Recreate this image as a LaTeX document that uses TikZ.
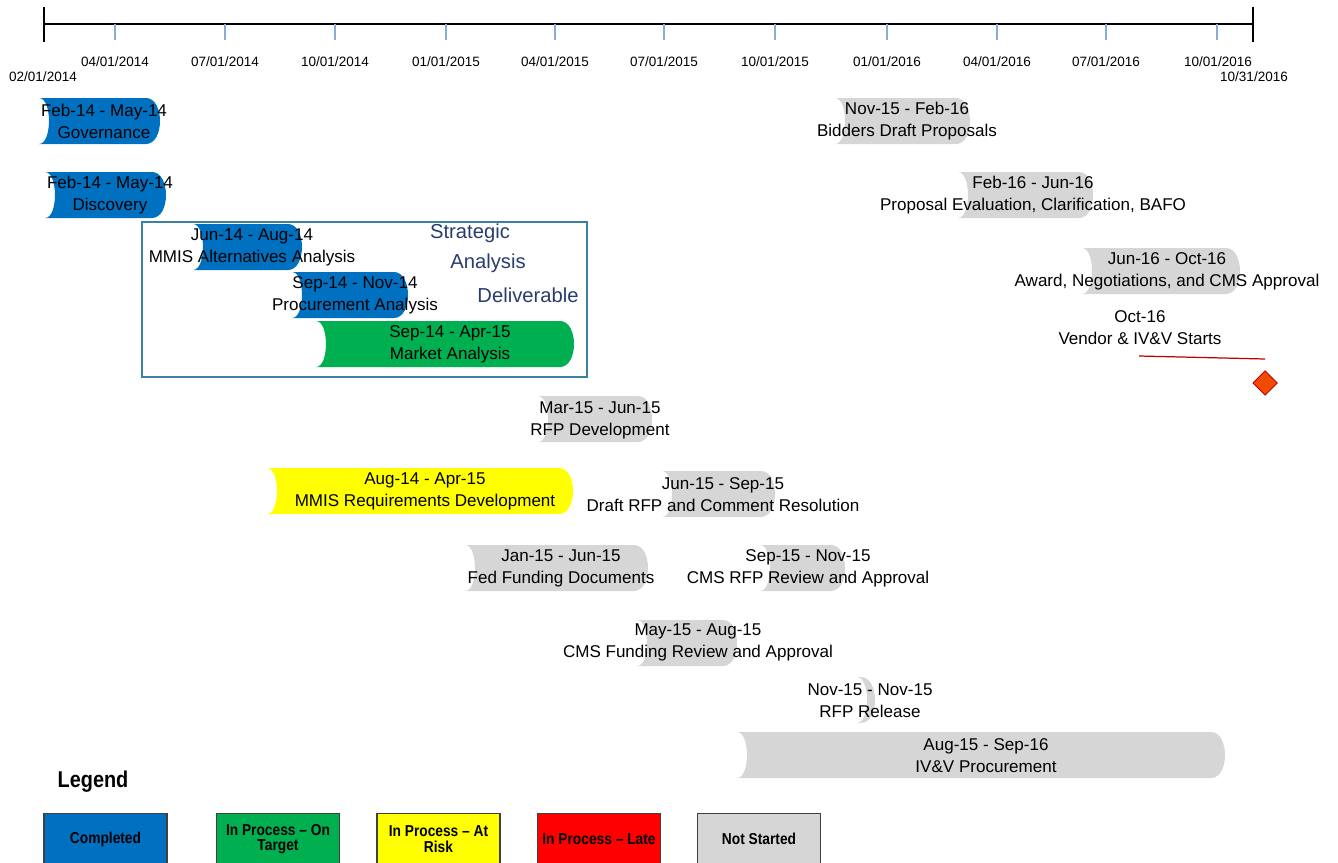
\documentclass[tikz,border=0pt]{standalone}
\usepackage{fontspec}
\setmainfont{Liberation Sans}
\newfontfamily\narrowfont[FakeStretch=0.87]{Liberation Sans}
\usetikzlibrary{shapes.geometric}
\definecolor{doneblue}{RGB}{0,112,192}
\definecolor{donelight}{RGB}{10,135,225}
\definecolor{ontarget}{RGB}{0,176,80}
\definecolor{atrisk}{RGB}{255,255,0}
\definecolor{late}{RGB}{255,0,0}
\definecolor{notstarted}{RGB}{214,214,214}
\definecolor{nslight}{RGB}{232,232,232}
\definecolor{tickblue}{RGB}{142,169,219}
\definecolor{boxline}{RGB}{60,130,160}
\definecolor{strattext}{RGB}{40,60,110}
\definecolor{milered}{RGB}{192,0,0}
\definecolor{mileorange}{RGB}{240,75,0}
\newcommand{\bartext}{\fontsize{9.7}{12.5}\selectfont}
\newcommand{\datetext}{\fontsize{7.7}{9}\selectfont}
% bar: style, start x, end x, top y
\newcommand{\ganttbar}[4]{%
  \path[#1] (#2,#4) -- ({#3-14},#4)
    .. controls ({#3+4.67},#4) and ({#3+4.67},{#4+46}) .. ({#3-14},{#4+46})
    -- (#2,{#4+46})
    .. controls ({#2+13.3},{#4+46}) and ({#2+13.3},#4) .. cycle;}
\begin{document}
\begin{tikzpicture}[x=0.02cm, y=-0.02cm,
  completed/.style={top color=doneblue, middle color=donelight, bottom color=doneblue},
  inprocess/.style={fill=ontarget},
  risk/.style={fill=atrisk},
  waiting/.style={top color=notstarted, middle color=nslight, bottom color=notstarted},
  label/.style={font=\bartext, align=center, inner sep=0pt},
  date/.style={font=\datetext, inner sep=0pt},
  strat/.style={font=\fontsize{11.5}{14}\selectfont, text=strattext, inner sep=0pt},
  legendbox/.style={draw=black!75, line width=0.6pt, minimum width=70pt, minimum height=29.5pt,
    inner sep=1pt, align=center, font=\narrowfont\bfseries\fontsize{9}{8.8}\selectfont}]
\useasboundingbox (0,0) rectangle (1338,862);

\coordinate (start) at (44,24);
\coordinate (finish) at (1253,24);
\draw[line width=0.7pt] (start) -- (finish);
\draw[line width=0.7pt] (44,7) -- (44,42);
\draw[line width=0.7pt] (1253,7) -- (1253,42);
\foreach \x in {115,225,335,446,555,664,775,887,997,1106,1217}
  \draw[tickblue, line width=0.6pt] (\x,24) -- (\x,40);

\node (d0) at (43,77) [date] {02/01/2014};
\node (d1) at (115,62) [date] {04/01/2014};
\node (d2) at (225,62) [date] {07/01/2014};
\node (d3) at (335,62) [date] {10/01/2014};
\node (d4) at (446,62) [date] {01/01/2015};
\node (d5) at (555,62) [date] {04/01/2015};
\node (d6) at (664,62) [date] {07/01/2015};
\node (d7) at (775,62) [date] {10/01/2015};
\node (d8) at (887,62) [date] {01/01/2016};
\node (d9) at (997,62) [date] {04/01/2016};
\node (d10) at (1106,62) [date] {07/01/2016};
\node (d11) at (1218,62) [date] {10/01/2016};
\node (d12) at (1254,77) [date] {10/31/2016};

\draw[boxline, line width=0.6pt] (142,222) rectangle (587,377);

\ganttbar{completed}{39}{160}{98}
\ganttbar{completed}{45}{166}{172}
\ganttbar{completed}{193}{302}{224}
\ganttbar{completed}{292}{408}{272}
\ganttbar{inprocess}{316}{574}{321}
\ganttbar{waiting}{835}{970}{98}
\ganttbar{waiting}{958}{1093}{172}
\ganttbar{waiting}{1082}{1240}{248}
\ganttbar{waiting}{538}{652}{396}
\ganttbar{risk}{267}{573}{468}
\ganttbar{waiting}{662}{775}{471}
\ganttbar{waiting}{465}{648}{545}
\ganttbar{waiting}{760}{845}{545}
\ganttbar{waiting}{637}{737}{620}
\ganttbar{waiting}{857}{875}{677}
\ganttbar{waiting}{737}{1225}{732}

\node (gov) at (104,121) [label] {Feb-14 - May-14\\Governance};
\node (disc) at (110,195) [label] {Feb-14 - May-14\\Discovery};
\node (mmisalt) at (252,247) [label] {Jun-14 - Aug-14\\MMIS Alternatives Analysis};
\node (procan) at (355,295) [label] {Sep-14 - Nov-14\\Procurement Analysis};
\node (market) at (450,344) [label] {Sep-14 - Apr-15\\Market Analysis};
\node (strat1) at (470,233) [strat] {Strategic};
\node (strat2) at (488,263) [strat] {Analysis};
\node (strat3) at (528,295) [strat] {Deliverable};
\node (bidders) at (907,121) [label] {Nov-15 - Feb-16\\Bidders Draft Proposals};
\node (propeval) at (1033,195) [label] {Feb-16 - Jun-16\\Proposal Evaluation, Clarification, BAFO};
\node (award) at (1167,271) [label] {Jun-16 - Oct-16\\Award, Negotiations, and CMS Approval};
\node (vendor) at (1140,328) [label] {Oct-16\\Vendor \& IV\&V Starts};
\node (rfpdev) at (600,420) [label] {Mar-15 - Jun-15\\RFP Development};
\node (mmisreq) at (425,491) [label] {Aug-14 - Apr-15\\MMIS Requirements Development};
\node (draftrfp) at (723,495) [label] {Jun-15 - Sep-15\\Draft RFP and Comment Resolution};
\node (fedfund) at (561,568) [label] {Jan-15 - Jun-15\\Fed Funding Documents};
\node (cmsrfp) at (808,568) [label] {Sep-15 - Nov-15\\CMS RFP Review and Approval};
\node (cmsfund) at (698,642) [label] {May-15 - Aug-15\\CMS Funding Review and Approval};
\node (rfprel) at (870,701) [label] {Nov-15 - Nov-15\\RFP Release};
\node (ivv) at (986,756) [label] {Aug-15 - Sep-16\\IV\&V Procurement};

\coordinate (vendL) at (1139,356);
\coordinate (vendR) at (1265,359);
\draw[milered, line width=0.7pt] (vendL) -- (vendR);
\node (vendmile) at (1265,383) [diamond, draw=milered, fill=mileorange, line width=0.5pt,
  minimum size=14pt, inner sep=0pt] {};

\node (legend) at (93,782) [font=\narrowfont\bfseries\fontsize{13}{15}\selectfont, inner sep=0pt] {Legend};
\node (lgdone) at (105.5,839) [legendbox, fill=doneblue] {Completed};
\node (lgtarget) at (278,839) [legendbox, fill=ontarget] {In Process \textendash{} On\\Target};
\node (lgrisk) at (438.5,839) [legendbox, fill=atrisk] {In Process \textendash{} At\\Risk};
\node (lglate) at (599,839) [legendbox, fill=late] {In Process \textendash{} Late};
\node (lgnot) at (759,839) [legendbox, fill=notstarted] {Not Started};
\end{tikzpicture}
\end{document}
